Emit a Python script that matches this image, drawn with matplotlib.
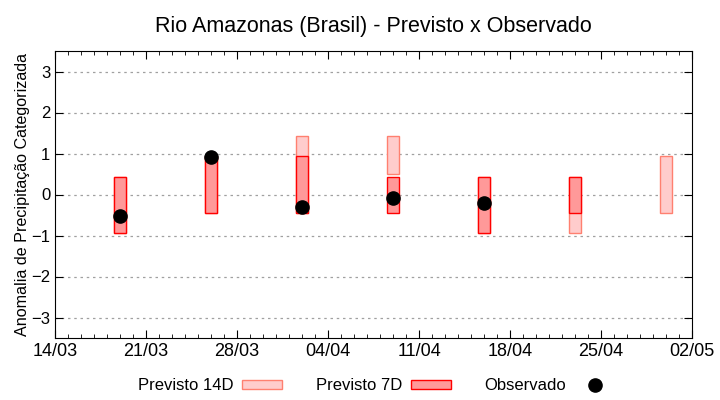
import matplotlib
matplotlib.use("Agg")
import matplotlib.pyplot as plt
import matplotlib.dates as mdates
from matplotlib.patches import Patch
from matplotlib.lines import Line2D
import numpy as np
from datetime import datetime, timedelta

plt.rcParams['font.family'] = ['Liberation Sans', 'DejaVu Sans']

# dates of each forecast / observation
dates = ["2024-03-19", "2024-03-26", "2024-04-02", "2024-04-09",
         "2024-04-16", "2024-04-23", "2024-04-30"]

# forecast ranges (bottom, top) of the categorized anomaly
prev14_low = [-0.95, -0.45, -0.45, 0.49, -0.95, -0.95, -0.45]
prev14_high = [0.43, 0.93, 1.43, 1.43, 0.43, 0.43, 0.93]
prev7_low = [-0.95, -0.45, -0.45, -0.45, -0.95, -0.45, None]
prev7_high = [0.43, 0.93, 0.93, 0.43, 0.43, 0.43, None]

# observed values
obs = [-0.53, 0.92, -0.31, -0.09, -0.21, None, None]

x = [datetime.strptime(d, "%Y-%m-%d") for d in dates]
xn = mdates.date2num(x)

fig = plt.figure(figsize=(7.2, 4.0), dpi=100)
ax = fig.add_axes([55/720, 1-338/400, (692-55)/720, (338-51)/400])

w = 0.92
for i in range(len(xn)):
    ax.bar(xn[i], prev14_high[i] - prev14_low[i], bottom=prev14_low[i], width=w,
           color='#ffcccc', edgecolor='#ff8070', linewidth=1, zorder=2)
for i in range(len(xn)):
    if prev7_low[i] is None:
        continue
    ax.bar(xn[i], prev7_high[i] - prev7_low[i], bottom=prev7_low[i], width=w,
           color='#ff9999', edgecolor='#ff0000', linewidth=1, zorder=3)

ox = [xn[i] for i in range(len(obs)) if obs[i] is not None]
oy = [v for v in obs if v is not None]
ax.plot(ox, oy, 'o', color='black', markersize=9.5, zorder=4, linestyle='none')

start = mdates.date2num(datetime(2024, 3, 14))
end = mdates.date2num(datetime(2024, 5, 2))
ax.set_xlim(start, end)
ax.set_ylim(-3.5, 3.5)

ax.set_xticks(np.arange(start, end + 0.1, 7))
ax.set_xticks(np.arange(start, end + 0.1, 1), minor=True)
ax.xaxis.set_major_formatter(mdates.DateFormatter('%d/%m'))
ax.set_yticks(np.arange(-3, 4, 1))
ax.tick_params(which='both', direction='in', top=True, right=True, labelsize=12)
ax.tick_params(which='major', length=6)
ax.tick_params(which='minor', length=3)
for lab in ax.get_xticklabels():
    lab.set_family(['Liberation Sans Narrow', 'Liberation Sans'])
    lab.set_fontsize(13)
ax.grid(axis='y', color='#a0a0a0', linestyle=(0, (2, 3)), linewidth=0.9, zorder=0)
ax.set_axisbelow(True)

ax.set_ylabel('Anomalia de Precipitação Categorizada', fontsize=11.6, labelpad=1)
ax.set_title('Rio Amazonas (Brasil) - Previsto x Observado', fontsize=15.5, pad=14)

handles = [Patch(facecolor='#ffcccc', edgecolor='#ff8070', label='Previsto 14D'),
           Patch(facecolor='#ff9999', edgecolor='#ff0000', label='Previsto 7D'),
           Line2D([], [], marker='o', color='black', linestyle='none', markersize=9.5,
                  label='Observado')]
leg = fig.legend(handles=handles, loc='center', bbox_to_anchor=(0.523, 0.035), ncol=3,
                 frameon=False, markerfirst=False, fontsize=12, handlelength=2.4,
                 handleheight=0.45, handletextpad=0.55, columnspacing=2.0)

fig.savefig('out.png', dpi=100)
